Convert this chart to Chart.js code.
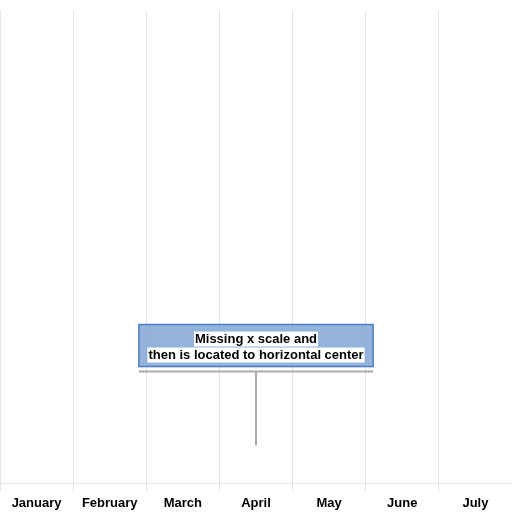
<!DOCTYPE html>
<html lang="en">
<head>
    <meta charset="UTF-8">
    <title>Annotation label</title>
    <script src="https://cdn.jsdelivr.net/npm/chart.js"></script>
    <style>
        html, body { margin: 0; padding: 0; background: #fff; }
        #wrap { width: 512px; height: 512px; }
    </style>
</head>
<body>
    <div id="wrap"><canvas id="chart"></canvas></div>
    <script>
        // categories and values
        const months = ["January", "February", "March", "April", "May", "June", "July"];
        const seriesValues = [];
        const yRange = [0, 100];
        const labelLines = ["Missing x scale and", "then is located to horizontal center"];
        const labelYValue = [8];

        // draws the label with its callout (no x value -> horizontal center)
        const labelPlugin = {
            id: "calloutLabel",
            afterDraw(chart) {
                const ctx = chart.ctx;
                const area = chart.chartArea;
                const y = chart.scales.y;
                const px = (area.left + area.right) / 2;
                const py = y.getPixelForValue(labelYValue[0]);
                ctx.save();
                ctx.font = "bold 13px 'Liberation Sans', Arial, sans-serif";
                const w = Math.max(...labelLines.map(t => ctx.measureText(t).width)) + 19;
                const h = 42;
                const bx = px - w / 2;
                const by = py - 79 - h;
                // box
                ctx.fillStyle = "rgba(120, 160, 210, 0.8)";
                ctx.strokeStyle = "#4a7cc4";
                ctx.lineWidth = 1.5;
                ctx.fillRect(bx, by, w, h);
                ctx.strokeRect(bx, by, w, h);
                // text with white background
                ctx.textAlign = "center";
                ctx.textBaseline = "middle";
                labelLines.forEach((t, i) => {
                    const ty = by + 15 + i * 16;
                    const tw = ctx.measureText(t).width;
                    ctx.fillStyle = "#fff";
                    ctx.fillRect(px - tw / 2 - 1, ty - 8, tw + 2, 15);
                    ctx.fillStyle = "#000";
                    ctx.fillText(t, px, ty);
                });
                // callout
                ctx.strokeStyle = "#aaa";
                ctx.lineWidth = 2;
                ctx.beginPath();
                ctx.moveTo(bx, by + h + 5);
                ctx.lineTo(bx + w, by + h + 5);
                ctx.moveTo(px, by + h + 5);
                ctx.lineTo(px, py);
                ctx.stroke();
                ctx.restore();
            }
        };

        new Chart(document.getElementById("chart"), {
            type: "line",
            data: {
                labels: months,
                datasets: [{ data: seriesValues }]
            },
            options: {
                responsive: true,
                maintainAspectRatio: false,
                animation: false,
                layout: { padding: { top: 10, bottom: -3 } },
                plugins: { legend: { display: false }, tooltip: { enabled: false } },
                scales: {
                    x: {
                        offset: true,
                        grid: { offset: true },
                        ticks: { padding: 4, color: "#000", font: { family: "'Liberation Sans', Arial", size: 13, weight: "bold" } }
                    },
                    y: { display: false, min: yRange[0], max: yRange[1] }
                }
            },
            plugins: [labelPlugin]
        });
    </script>
</body>
</html>
